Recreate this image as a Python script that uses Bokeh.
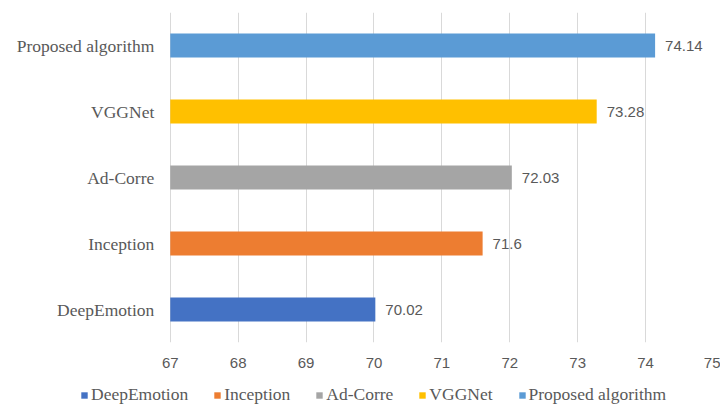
from bokeh.plotting import figure
from bokeh.layouts import column
from bokeh.models import ColumnDataSource, Range1d, FactorRange, Legend, LegendItem, FixedTicker
from bokeh.core.properties import value
from bokeh.embed import file_html
from bokeh.resources import INLINE

# Accuracy (%) of each method, listed bottom-to-top
methods = ["DeepEmotion", "Inception", "Ad-Corre", "VGGNet", "Proposed algorithm"]
accuracy = [70.02, 71.6, 72.03, 73.28, 74.14]
colors = ["#4472C4", "#ED7D31", "#A5A5A5", "#FFC000", "#5B9BD5"]
value_labels = ["70.02", "71.6", "72.03", "73.28", "74.14"]
x_ticks = [67, 68, 69, 70, 71, 72, 73, 74, 75]

TEXT_GREY = "#595959"
SERIF = "Liberation Serif"
SANS = "Liberation Sans"

# the frame spans the full width; room for category names is left of 67
p = figure(
    width=720, height=372,
    y_range=FactorRange(factors=methods, range_padding=0),
    x_range=Range1d(64.5, 75),
    output_backend="svg", toolbar_location=None,
    y_axis_location=None,
    min_border_left=0, min_border_right=7,
    min_border_top=12, min_border_bottom=30,
)
p.outline_line_color = None
p.background_fill_color = "white"
p.border_fill_color = "white"

src = ColumnDataSource(dict(method=methods, acc=accuracy, color=colors,
                            label=value_labels, base=[x_ticks[0]] * len(methods)))


def add_bars(fig, visible=True):
    out = []
    for i, m in enumerate(methods):
        s = ColumnDataSource(dict(method=[m], acc=[accuracy[i]]))
        r = fig.hbar(y="method", left=x_ticks[0], right="acc", height=0.36, source=s,
                     fill_color=colors[i], line_color=None)
        r.visible = visible
        out.append(r)
    return out


add_bars(p)

# value labels to the right of each bar
p.text(x="acc", y="method", text="label", source=src,
       x_offset=10, text_baseline="middle", text_align="left",
       text_font=value(SANS), text_font_size="15px", text_color=TEXT_GREY)

# category names left of the axis origin
p.text(x="base", y="method", text="method", source=src,
       x_offset=-16, text_baseline="middle", text_align="right",
       text_font=value(SERIF), text_font_size="17.5px", text_color=TEXT_GREY)

# grid
p.ygrid.grid_line_color = None
p.xgrid.grid_line_color = "#D9D9D9"
p.xgrid.grid_line_width = 1

# x axis
p.xaxis.ticker = FixedTicker(ticks=x_ticks)
p.xaxis.axis_line_color = None
p.xaxis.major_tick_line_color = None
p.xaxis.minor_tick_line_color = None
p.xaxis.major_label_standoff = 9
p.xaxis.major_label_text_font = SANS
p.xaxis.major_label_text_font_size = "15px"
p.xaxis.major_label_text_color = TEXT_GREY

# legend strip underneath the chart
leg_fig = figure(
    width=720, height=33,
    y_range=FactorRange(factors=methods), x_range=Range1d(0, 1),
    output_backend="svg", toolbar_location=None,
    x_axis_location=None, y_axis_location=None,
    min_border_left=0, min_border_right=0, min_border_top=0, min_border_bottom=0,
)
leg_fig.outline_line_color = None
leg_fig.grid.visible = False
leg_fig.border_fill_color = "white"
leg_bars = add_bars(leg_fig, visible=False)

legend = Legend(
    items=[LegendItem(label=m, renderers=[r]) for m, r in zip(methods, leg_bars)],
    orientation="horizontal",
    location=(80, 0),
    glyph_width=8, glyph_height=8,
    label_standoff=3, spacing=25, padding=2, margin=0,
    label_text_font=SERIF, label_text_font_size="17.5px",
    label_text_color=TEXT_GREY, label_height=18,
    border_line_color=None, background_fill_alpha=0,
)
leg_fig.add_layout(legend)

layout = column(p, leg_fig, spacing=0)
open("out.html", "w").write(file_html(layout, INLINE))
